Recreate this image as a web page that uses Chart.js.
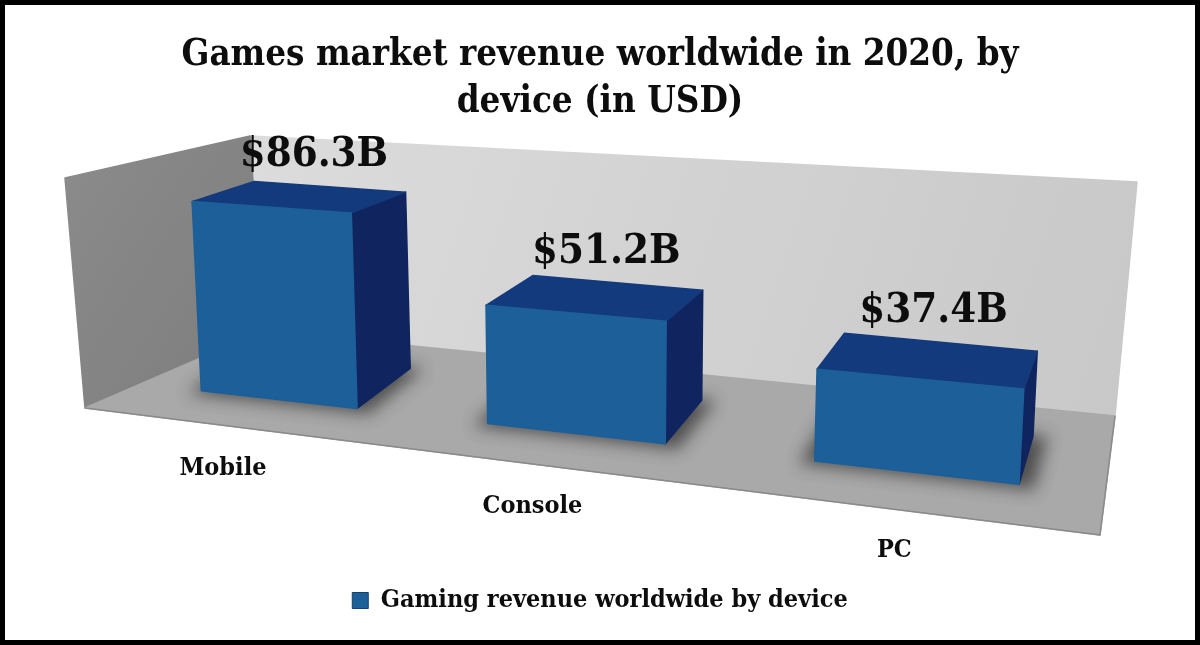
<!DOCTYPE html>
<html>
<head>
<meta charset="utf-8">
<script src="https://cdn.jsdelivr.net/npm/chart.js@4"></script>
<style>
  html, body { margin: 0; padding: 0; background: #fff; }
  #box { width: 1200px; height: 645px; }
  canvas { filter: blur(0.6px); }
</style>
</head>
<body>
<div id="box"><canvas id="myChart"></canvas></div>
<script>
const categories = ["Mobile", "Console", "PC"];
const revenue = [86.3, 51.2, 37.4];
const seriesName = "Gaming revenue worldwide by device";
const titleLines = ["Games market revenue worldwide in 2020, by", "device (in USD)"];
const serif = "'DejaVu Serif Condensed', 'Liberation Serif', serif";

// where the corners of the plot land on the page: [u0 v0, u1 v0, u1 v1, u0 v1]
const frontQuad = [[143, 384], [1104, 494], [1120, 230], [131, 167]];
const backQuad = [[206, 346], [1112, 445], [1126, 210], [196, 150]];

function makeProjection(q) {
    const [p0, p1, p2, p3] = q;
    const dx1 = p1[0] - p2[0], dy1 = p1[1] - p2[1];
    const dx2 = p3[0] - p2[0], dy2 = p3[1] - p2[1];
    const sx = p0[0] - p1[0] + p2[0] - p3[0], sy = p0[1] - p1[1] + p2[1] - p3[1];
    const den = dx1 * dy2 - dx2 * dy1;
    const g = (sx * dy2 - dx2 * sy) / den, h = (dx1 * sy - sx * dy1) / den;
    const a = p1[0] - p0[0] + g * p1[0], b = p3[0] - p0[0] + h * p3[0];
    const d = p1[1] - p0[1] + g * p1[1], e = p3[1] - p0[1] + h * p3[1];
    return (u, v) => {
        const w = g * u + h * v + 1;
        return [(a * u + b * v + p0[0]) / w, (d * u + e * v + p0[1]) / w];
    };
}
const front = makeProjection(frontQuad);
const back = makeProjection(backQuad);

function poly(ctx, pts, fill) {
    ctx.beginPath();
    pts.forEach((p, i) => i ? ctx.lineTo(p[0], p[1]) : ctx.moveTo(p[0], p[1]));
    ctx.closePath();
    ctx.fillStyle = fill;
    ctx.strokeStyle = fill;
    ctx.lineJoin = "round";
    ctx.lineWidth = 1.5;
    ctx.fill();
    ctx.stroke();
}

const walls3d = {
    id: "walls3d",
    beforeDraw(chart) {
        const ctx = chart.ctx;
        ctx.save();
        ctx.fillStyle = "#fff";
        ctx.fillRect(0, 0, chart.width, chart.height);

        const g = ctx.createLinearGradient(250, 135, 1120, 420);
        g.addColorStop(0, "#dcdcdc");
        g.addColorStop(1, "#c8c8c8");
        poly(ctx, [[250, 136], [1137, 182], [1115, 416], [263, 331]], g);

        const side = ctx.createLinearGradient(65, 180, 250, 300);
        side.addColorStop(0, "#8a8a8a");
        side.addColorStop(1, "#808080");
        poly(ctx, [[65, 178], [250, 136], [263, 331], [85, 408]], side);

        poly(ctx, [[85, 408], [263, 331], [1115, 416], [1100, 535]], "#a9a9a9");
        ctx.beginPath();
        ctx.moveTo(85, 408);
        ctx.lineTo(1100, 535);
        ctx.lineTo(1115, 416);
        ctx.strokeStyle = "#8a8a8a";
        ctx.lineWidth = 1.5;
        ctx.stroke();
        ctx.restore();
    },
    // bars are built here from the element positions the bar controller worked out
    beforeDatasetsDraw(chart) {
        const ctx = chart.ctx, area = chart.chartArea;
        const xs = chart.scales.x;
        const U = x => (x - area.left) / area.width;
        const V = y => (area.bottom - y) / area.height;
        const bars = chart.getDatasetMeta(0).data;

        ctx.save();
        bars.forEach(bar => {
            const { x, y, base, width } = bar.getProps(["x", "y", "base", "width"], true);
            const l = U(x - width / 2), r = U(x + width / 2), t = V(y), b = V(base);

            // soft floor shadow only: the shape itself sits off the canvas
            ctx.save();
            ctx.shadowColor = "rgba(45,45,45,0.72)";
            ctx.shadowBlur = 16;
            ctx.shadowOffsetX = 3000;
            const foot = [front(l - 0.012, b - 0.012), front(r + 0.012, b - 0.012), back(r + 0.012, b), back(l - 0.012, b)];
            poly(ctx, foot.map(p => [p[0] - 3000, p[1]]), "#000");
            ctx.restore();

            poly(ctx, [front(r, t), back(r, t), back(r, b), front(r, b)], "#10255f");
            poly(ctx, [front(l, t), front(r, t), back(r, t), back(l, t)], "#133a7c");
            poly(ctx, [front(l, t), front(r, t), front(r, b), front(l, b)], "#1c5f99");
        });

        // value labels
        ctx.fillStyle = "#0d0d0d";
        ctx.textAlign = "center";
        ctx.textBaseline = "middle";
        ctx.font = "bold 41.5px " + serif;
        bars.forEach((bar, i) => {
            const { x, y } = bar.getProps(["x", "y"], true);
            const u = U(x);
            const p = back(u, V(y));
            ctx.fillText("$" + revenue[i].toFixed(1) + "B", p[0] - 17 + 14 * u, p[1] - 31);
        });

        // category labels walk down the floor edge
        ctx.font = "bold 25px " + serif;
        categories.forEach((c, i) => {
            const u = U(xs.getPixelForTick(i));
            const w = 1 - 0.21 * u;
            ctx.fillText(c, (784 * u + 84.5) / w, (3 * u + 452) / w);
        });
        ctx.restore();
        return false;
    },
    afterDraw(chart) {
        const ctx = chart.ctx;
        ctx.save();
        ctx.strokeStyle = "#000";
        ctx.lineWidth = 5;
        ctx.strokeRect(2.5, 2.5, chart.width - 5, chart.height - 5);
        ctx.restore();
    }
};

new Chart("myChart", {
    type: "bar",
    data: {
        labels: categories,
        datasets: [{
            label: seriesName,
            data: revenue,
            backgroundColor: "#1c5f99",
            borderColor: "#17406f",
            borderWidth: 1,
            categoryPercentage: 1,
            barPercentage: 0.56
        }]
    },
    options: {
        responsive: true,
        maintainAspectRatio: false,
        animation: false,
        layout: { padding: { top: 22, bottom: 22 } },
        scales: {
            x: { display: false },
            y: { display: false, min: 0, max: 100 }
        },
        plugins: {
            tooltip: { enabled: false },
            title: {
                display: true,
                text: titleLines,
                color: "#0d0d0d",
                font: { family: serif, size: 36.4, weight: "bold", lineHeight: 1.3 }
            },
            legend: {
                position: "bottom",
                labels: {
                    boxWidth: 16,
                    boxHeight: 16,
                    color: "#0d0d0d",
                    font: { family: serif, size: 25, weight: "bold" }
                }
            }
        }
    },
    plugins: [walls3d]
});
</script>
</body>
</html>
